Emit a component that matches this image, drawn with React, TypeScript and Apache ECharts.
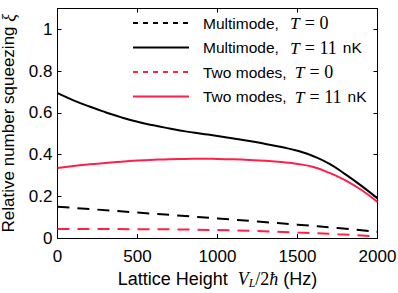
import React, { useEffect, useRef } from "react";
import * as echarts from "echarts";

const xTicks = [0, 500, 1000, 1500, 2000];

const xSolid = [0, 100, 200, 300, 400, 500, 600, 700, 800, 900, 1000, 1100, 1200, 1300, 1400, 1500, 1600, 1700, 1800, 1900, 2000];
const multiT11 = [0.694, 0.66, 0.63, 0.603, 0.578, 0.557, 0.54, 0.525, 0.511, 0.5, 0.489, 0.477, 0.465, 0.451, 0.436, 0.418, 0.392, 0.355, 0.305, 0.25, 0.19];
const twoT11 = [0.335, 0.345, 0.353, 0.36, 0.366, 0.371, 0.375, 0.378, 0.379, 0.38, 0.379, 0.377, 0.374, 0.37, 0.364, 0.355, 0.34, 0.312, 0.276, 0.23, 0.173];

const xDashed = [0, 250, 500, 750, 1000, 1250, 1500, 1750, 2000];
const multiT0 = [0.15, 0.136, 0.122, 0.108, 0.094, 0.079, 0.064, 0.048, 0.03];
const twoT0 = [0.043, 0.043, 0.042, 0.041, 0.038, 0.033, 0.026, 0.018, 0.008];

const names = ["Multimode, T = 0", "Multimode, T = 11 nK", "Two modes, T = 0", "Two modes, T = 11 nK"];
const legendRich = [
  "{a|Multimode, }{t|T}{m|= 0}",
  "{a|Multimode, }{t|T}{m|= 11}{k|nK}",
  "{a|Two modes, }{t2|T}{m|= 0}",
  "{a|Two modes, }{t2|T}{m|= 11}{k|nK}",
];

const BLACK = "#000000";
const RED = "#ff1f48";
const SANS = "'Liberation Sans', Arial, sans-serif";
const SERIF = "'Liberation Serif', 'DejaVu Serif', serif";

export default function App() {
  const ref = useRef<HTMLDivElement>(null);
  useEffect(() => {
    const chart = echarts.init(ref.current!, null, { renderer: "svg" });
    const pair = (xs: number[], ys: number[]) => xs.map((x, i) => [x, ys[i]]);
    const axisCommon = {
      axisLine: { show: true, onZero: false, lineStyle: { color: BLACK, width: 1 } },
      axisTick: { show: true, inside: true, length: 4, lineStyle: { color: BLACK, width: 1 } },
      splitLine: { show: false },
    };
    chart.setOption({
      animation: false,
      backgroundColor: "#fff",
      grid: { left: 57.5, right: 20.5, top: 8.5, bottom: 55, containLabel: false, outerBoundsMode: "none" },
      xAxis: [
        {
          type: "value", min: 0, max: 2000, interval: 500, ...axisCommon,
          axisLabel: { color: BLACK, fontSize: 17, fontFamily: SANS, margin: 10, formatter: (v: number) => String(v) },
          name: "{a|Lattice Height  }{v|V}{s|L}{n|/2}{h|ħ}{a| (Hz)}",
          nameLocation: "middle",
          nameGap: 26,
          nameTextStyle: {
            rich: {
              a: { fontSize: 18, fontFamily: SANS, color: BLACK },
              v: { fontSize: 18, fontFamily: SERIF, fontStyle: "italic", color: BLACK },
              s: { fontSize: 12, fontFamily: SERIF, fontStyle: "italic", color: BLACK, padding: [9, 0, 0, 0] },
              n: { fontSize: 18, fontFamily: SERIF, color: BLACK },
              h: { fontSize: 18, fontFamily: SERIF, fontStyle: "italic", color: BLACK },
            },
          },
        },
        {
          type: "value", min: 0, max: 2000, interval: 500, position: "top", ...axisCommon,
          axisLabel: { show: false },
        },
      ],
      yAxis: [
        {
          type: "value", min: 0, max: 1.1, interval: 0.2, ...axisCommon,
          axisLabel: { color: BLACK, fontSize: 17, fontFamily: SANS, margin: 5, showMaxLabel: false },
          name: "{a|Relative number squeezing }{x|ξ}",
          nameLocation: "middle",
          nameGap: 38,
          nameRotate: 90,
          nameTextStyle: {
            rich: {
              a: { fontSize: 17, fontFamily: SANS, color: BLACK },
              x: { fontSize: 18, fontFamily: SERIF, fontStyle: "italic", color: BLACK },
            },
          },
        },
        {
          type: "value", min: 0, max: 1.1, interval: 0.2, position: "right", ...axisCommon,
          axisLabel: { show: false },
        },
      ],
      legend: {
        left: 132,
        top: 14,
        orient: "vertical",
        itemWidth: 56,
        itemHeight: 12,
        itemGap: 6.5,
        padding: 0,
        itemStyle: { opacity: 0 },
        formatter: (name: string) => legendRich[names.indexOf(name)],
        textStyle: {
          padding: [0, 0, 0, 9],
          rich: {
            a: { fontSize: 15.5, fontFamily: SANS, color: BLACK },
            k: { fontSize: 15.5, fontFamily: SANS, color: BLACK, padding: [0, 0, 0, 6] },
            t: { fontSize: 17.5, fontFamily: SERIF, fontStyle: "italic", color: BLACK, padding: [0, 5, 0, 7] },
            t2: { fontSize: 17.5, fontFamily: SERIF, fontStyle: "italic", color: BLACK, padding: [0, 5, 0, 4] },
            m: { fontSize: 18, fontFamily: SERIF, color: BLACK },
          },
        },
        data: [
          { name: names[0], itemStyle: { opacity: 0 }, lineStyle: { type: [5, 5], width: 2, color: BLACK } },
          { name: names[1], itemStyle: { opacity: 0 }, lineStyle: { type: "solid", width: 2, color: BLACK } },
          { name: names[2], itemStyle: { opacity: 0 }, lineStyle: { type: [5, 5], width: 2, color: RED } },
          { name: names[3], itemStyle: { opacity: 0 }, lineStyle: { type: "solid", width: 2, color: RED } },
        ],
      },
      series: [
        {
          name: names[0], type: "line", data: pair(xDashed, multiT0), showSymbol: false, symbol: "none",
          smooth: true, lineStyle: { color: BLACK, width: 2, type: [12, 8] }, itemStyle: { color: BLACK },
        },
        {
          name: names[1], type: "line", data: pair(xSolid, multiT11), showSymbol: false, symbol: "none",
          smooth: true, lineStyle: { color: BLACK, width: 2 }, itemStyle: { color: BLACK },
        },
        {
          name: names[2], type: "line", data: pair(xDashed, twoT0), showSymbol: false, symbol: "none",
          smooth: true, lineStyle: { color: RED, width: 2, type: [12, 8] }, itemStyle: { color: RED },
        },
        {
          name: names[3], type: "line", data: pair(xSolid, twoT11), showSymbol: false, symbol: "none",
          smooth: true, lineStyle: { color: RED, width: 2 }, itemStyle: { color: RED },
        },
      ],
    });
    return () => chart.dispose();
  }, []);
  return <div ref={ref} style={{ width: 398, height: 293, position: "absolute", left: 0, top: 0 }} />;
}
